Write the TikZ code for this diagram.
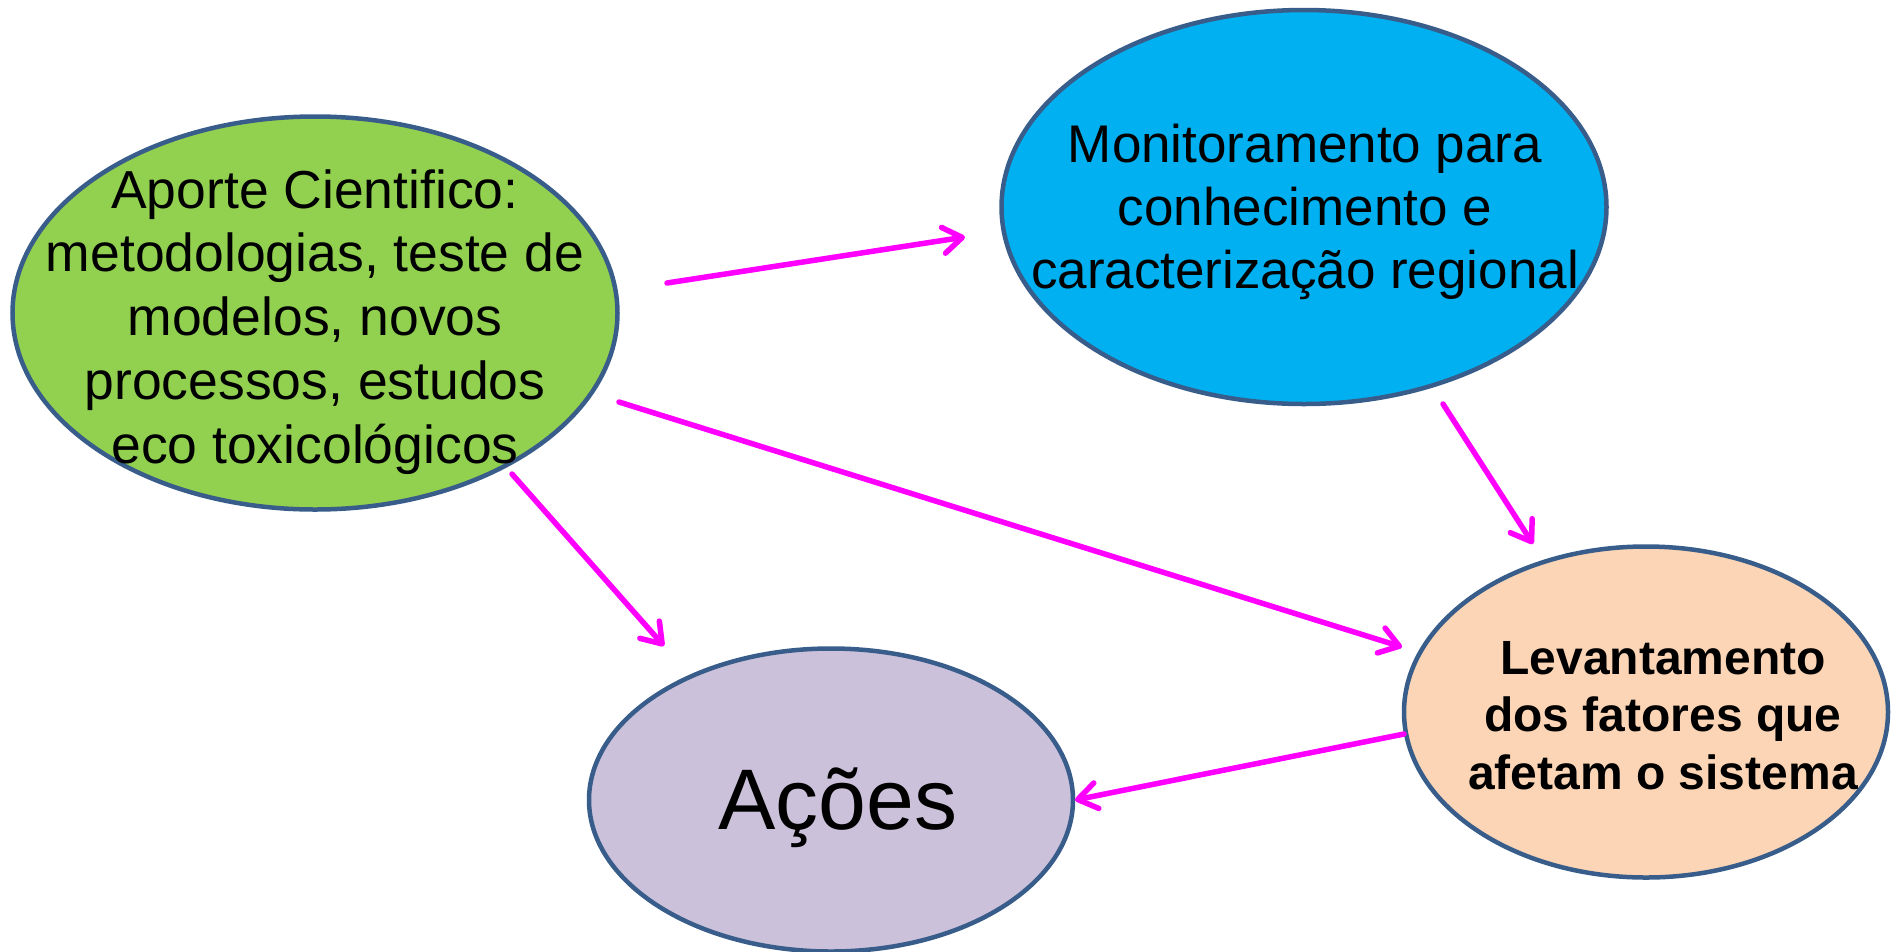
\documentclass[tikz,border=0pt]{standalone}
\usepackage{fontspec}
\setmainfont{Liberation Sans}
\usetikzlibrary{shapes.geometric,arrows.meta}
\definecolor{cgreen}{RGB}{146,208,80}
\definecolor{cblue}{RGB}{0,176,240}
\definecolor{cpeach}{RGB}{251,213,181}
\definecolor{cpurple}{RGB}{204,193,218}
\definecolor{cborder}{RGB}{56,93,138}
\definecolor{cmag}{RGB}{255,0,255}
\begin{document}
\begin{tikzpicture}[x=1pt,y=-1pt,
  ell/.style={ellipse, draw=cborder, line width=4.5pt, inner sep=0pt, outer sep=0pt},
  conn/.style={draw=cmag, line width=5.5pt, line cap=round,
    -{Straight Barb[length=19pt,width=26pt,line cap=round,line join=round]}},
  txt/.style={align=center, inner sep=0pt, anchor=base}]
\useasboundingbox (0,0) rectangle (1895,951);
% ellipses
\node[ell, fill=cgreen, minimum width=605pt, minimum height=393pt] (green) at (315,313) {};
\node[ell, fill=cblue, minimum width=605pt, minimum height=394pt] (blue) at (1304,207) {};
\node[ell, fill=cpeach, minimum width=484pt, minimum height=331pt] (peach) at (1646,712) {};
\node[ell, fill=cpurple, minimum width=484pt, minimum height=303pt] (purple) at (831,800) {};
% texts (anchor = baseline of the last line)
\node[txt, font=\fontsize{53.5}{63.75}\selectfont] (greentxt) at (315,463)
  {Aporte Cientifico:\\metodologias, teste de\\modelos, novos\\processos, estudos\\eco toxicológicos};
\node[txt, font=\fontsize{53}{63}\selectfont] (bluetxt) at (1305,288)
  {Monitoramento para\\conhecimento e\\caracterização regional};
\node[txt, font=\fontsize{48}{57.5}\selectfont\bfseries] (peachtxt) at (1663,789)
  {Levantamento\\dos fatores que\\afetam o sistema};
\node[txt, font=\fontsize{86}{100}\selectfont] (purpletxt) at (838,829) {Ações};
% connector end points
\coordinate (a1s) at (667,283);  \coordinate (a1e) at (965,237);
\coordinate (a2s) at (619,402);  \coordinate (a2e) at (1402,647);
\coordinate (a3s) at (512,474);  \coordinate (a3e) at (664,646);
\coordinate (a4s) at (1443,404); \coordinate (a4e) at (1533,544);
\coordinate (a5s) at (1404,734); \coordinate (a5e) at (1075,800);
\draw[conn] (a1s) -- (a1e);
\draw[conn] (a2s) -- (a2e);
\draw[conn] (a3s) -- (a3e);
\draw[conn] (a4s) -- (a4e);
\draw[conn] (a5s) -- (a5e);
\end{tikzpicture}
\end{document}
